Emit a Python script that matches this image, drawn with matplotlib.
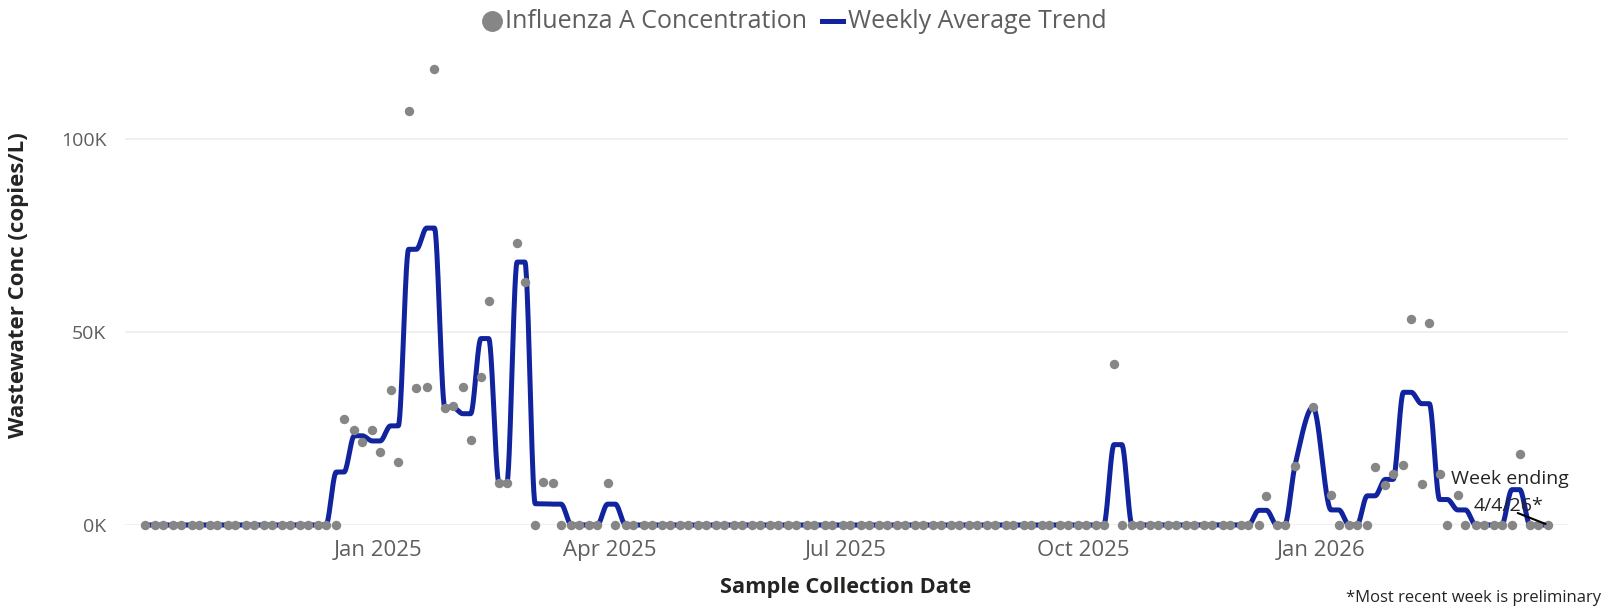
import numpy as np
import pandas as pd
import matplotlib
matplotlib.use("Agg")
import matplotlib.pyplot as plt
import matplotlib.dates as mdates
from matplotlib.lines import Line2D

plt.rcParams['font.family'] = ['Open Sans', 'DejaVu Sans']

# ---------------- Data ---------------- #
# samples taken Mondays and Thursdays, holidays skipped
mondays = pd.date_range("2024-10-07", "2026-03-30", freq="W-MON")
thursdays = pd.date_range("2024-10-03", "2026-03-26", freq="W-THU")
skipped = pd.to_datetime(["2025-12-25", "2026-01-01"])
sample_dates = mondays.union(thursdays).difference(skipped)

conc = [
    # Oct 2024
    0, 0, 0, 0, 0, 0, 0, 0, 0,
    # Nov 2024
    0, 0, 0, 0, 0, 0, 0, 0,
    # Dec 2024
    0, 0, 0, 0, 0, 27400, 24600, 21600, 24600,
    # Jan 2025
    18900, 35000, 16300, 107200, 35500, 35800, 117900, 30200, 30800,
    # Feb 2025
    35600, 22000, 38400, 58100, 10800, 10800, 73100, 63000,
    # Mar 2025
    0, 11000, 10800, 0, 0, 0, 0, 0, 10800,
    # Apr 2025
    0, 0, 0, 0, 0, 0, 0, 0,
    # May 2025
    0, 0, 0, 0, 0, 0, 0, 0, 0,
    # Jun 2025
    0, 0, 0, 0, 0, 0, 0, 0, 0,
    # Jul 2025
    0, 0, 0, 0, 0, 0, 0, 0, 0,
    # Aug 2025
    0, 0, 0, 0, 0, 0, 0, 0,
    # Sep 2025
    0, 0, 0, 0, 0, 0, 0, 0, 0,
    # Oct 2025
    0, 0, 0, 41600, 0, 0, 0, 0, 0,
    # Nov 2025
    0, 0, 0, 0, 0, 0, 0, 0,
    # Dec 2025
    0, 0, 0, 7600, 0, 0, 15300, 30500,
    # Jan 2026
    7800, 0, 0, 0, 0, 15100, 10400, 13200,
    # Feb 2026
    15400, 53300, 10600, 52200, 13200, 0, 7800, 0,
    # Mar 2026
    0, 0, 0, 0, 0, 18300, 0, 0, 0,
]
assert len(conc) == len(sample_dates), (len(conc), len(sample_dates))

y_ticks = [0, 50000, 100000]
y_tick_labels = ["0K", "50K", "100K"]
x_ticks = ["2025-01-01", "2025-04-01", "2025-07-01", "2025-10-01", "2026-01-01"]

df = pd.DataFrame({"date": sample_dates, "conc": conc})
# weekly average (weeks ending Saturday) shown at every sample of that week
df["week"] = df["date"].dt.to_period("W-SAT")
df["weekly_avg"] = df.groupby("week")["conc"].transform("mean")


# ---------------- Utility ---------------- #
def pchip(x, y, xn):
    # monotone cubic curve through the weekly points
    h = np.diff(x)
    delta = np.diff(y) / h
    n = len(x)
    d = np.zeros(n)
    for k in range(1, n - 1):
        if delta[k - 1] * delta[k] > 0:
            w1 = 2 * h[k] + h[k - 1]
            w2 = h[k] + 2 * h[k - 1]
            d[k] = (w1 + w2) / (w1 / delta[k - 1] + w2 / delta[k])
    idx = np.clip(np.searchsorted(x, xn) - 1, 0, n - 2)
    t = (xn - x[idx]) / h[idx]
    h00 = 2 * t**3 - 3 * t**2 + 1
    h10 = t**3 - 2 * t**2 + t
    h01 = -2 * t**3 + 3 * t**2
    h11 = t**3 - t**2
    return h00 * y[idx] + h10 * h[idx] * d[idx] + h01 * y[idx + 1] + h11 * h[idx] * d[idx + 1]


# ---------------- Plot ---------------- #
W, H = 1621, 609
fig = plt.figure(figsize=(W / 100, H / 100), dpi=100)
ax_left, ax_right, ax_bottom, ax_top = 125, 1568, 525, 42
ax = fig.add_axes([ax_left / W, 1 - ax_bottom / H,
                   (ax_right - ax_left) / W, (ax_bottom - ax_top) / H])

xd = mdates.date2num(df["date"])
xs = np.linspace(xd[0], xd[-1], 4000)
ys = pchip(xd, df["weekly_avg"].to_numpy(float), xs)

blue = "#12239E"
grey_dot = "#868686"
text_dark = "#252423"
text_grey = "#605E5C"

for yt in y_ticks:
    ax.axhline(yt, color="#EDEDED", lw=1.2, zorder=0)

ax.plot(xs, ys, color=blue, lw=3.6, solid_capstyle="round", zorder=2, clip_on=False)
ax.scatter(xd, df["conc"], s=46, color=grey_dot, linewidths=0, zorder=3, clip_on=False)

jan1 = mdates.date2num(pd.Timestamp("2025-01-01"))
px_per_day = 2.584
ax.set_xlim(jan1 + (ax_left - 377.6) / px_per_day, jan1 + (ax_right - 377.6) / px_per_day)
ax.set_ylim(0, 125000)

ax.set_xticks(mdates.date2num(pd.to_datetime(x_ticks)))
ax.xaxis.set_major_formatter(mdates.DateFormatter("%b %Y"))
ax.set_yticks(y_ticks)
ax.set_yticklabels(y_tick_labels)
ax.tick_params(axis="both", length=0, labelcolor=text_grey)
ax.tick_params(axis="x", pad=11, labelsize=16)
ax.tick_params(axis="y", pad=13.5, labelsize=14)
for s in ax.spines.values():
    s.set_visible(False)

fig.text(19 / W, 1 - 285 / H, "Wastewater Conc (copies/L)", rotation=90,
         ha="center", va="center", fontsize=16, fontweight="bold", color=text_dark)
fig.text(846 / W, 1 - 587 / H, "Sample Collection Date", ha="center", va="center",
         fontsize=15.7, fontweight="bold", color=text_dark)
fig.text(1601 / W, 1 - 598 / H, "*Most recent week is preliminary", ha="right", va="center",
         fontsize=12, color=text_dark)

# legend
leg_y = 1 - 21 / H
fig.add_artist(Line2D([492 / W], [leg_y], marker="o", markersize=14, color=grey_dot,
                      lw=0, transform=fig.transFigure))
fig.text(505 / W, leg_y, "Influenza A Concentration", ha="left", va="center",
         fontsize=18, color=text_grey)
fig.add_artist(Line2D([822 / W, 843 / W], [leg_y, leg_y], color=blue, lw=3.6,
                      transform=fig.transFigure))
fig.text(848 / W, leg_y, "Weekly Average Trend", ha="left", va="center",
         fontsize=18, color=text_grey)

# preliminary week annotation
last_x = xd[-1]
ax.annotate("", xy=(last_x, 0), xytext=(-33, 13), textcoords="offset pixels",
            arrowprops=dict(arrowstyle="-", color="black", lw=1.5), annotation_clip=False)
fig.text(1510 / W, 1 - 479 / H, "Week ending", ha="center", va="center",
         fontsize=14, color=text_dark)
fig.text(1509 / W, 1 - 506 / H, "4/4/26*", ha="center", va="center",
         fontsize=14, color=text_dark)

fig.savefig("out.png", dpi=100)
